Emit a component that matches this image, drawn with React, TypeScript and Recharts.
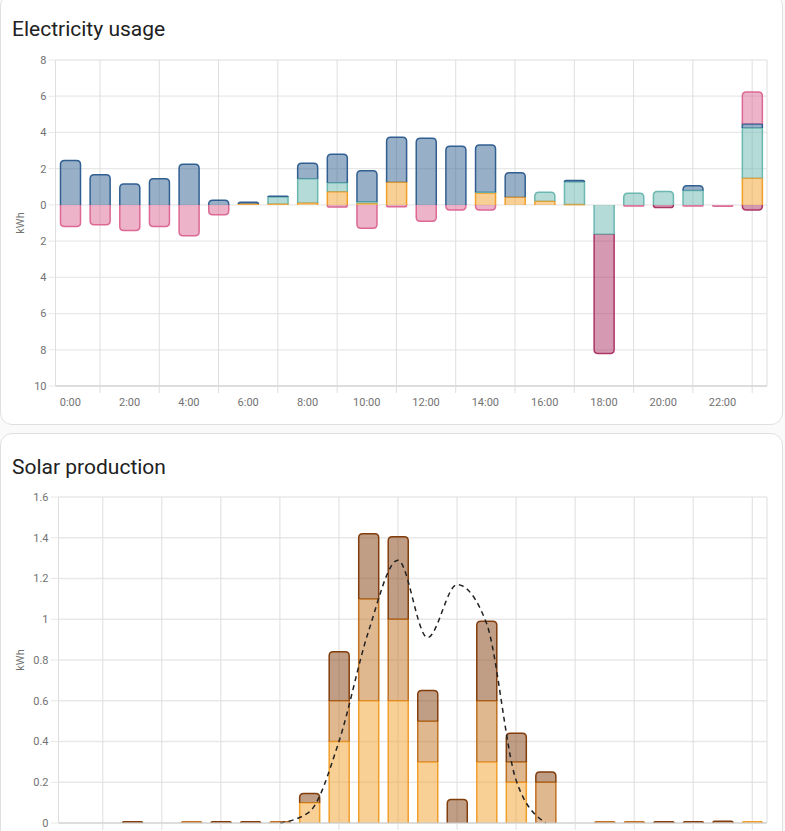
import React from "react";
import {
  BarChart,
  ComposedChart,
  Bar,
  Line,
  XAxis,
  YAxis,
  CartesianGrid,
} from "recharts";

const hours = [
  "0:00", "1:00", "2:00", "3:00", "4:00", "5:00", "6:00", "7:00",
  "8:00", "9:00", "10:00", "11:00", "12:00", "13:00", "14:00", "15:00",
  "16:00", "17:00", "18:00", "19:00", "20:00", "21:00", "22:00", "23:00",
];
const labelHours = ["0:00", "2:00", "4:00", "6:00", "8:00", "10:00", "12:00", "14:00", "16:00", "18:00", "20:00", "22:00"];
const gridHours = ["1:00", "3:00", "5:00", "7:00", "9:00", "11:00", "13:00", "15:00", "17:00", "19:00", "21:00", "23:00"];

// electricity usage, kWh per hour (negative = into battery)
const solarUsed = [0, 0, 0, 0, 0, 0, 0.05, 0.05, 0.11, 0.72, 0.08, 1.25, 0, 0, 0.65, 0.42, 0.2, 0.02, 0, 0, 0, 0, 0, 1.47];
const batteryOut = [0, 0, 0, 0, 0, 0, 0, 0.39, 1.33, 0.5, 0.1, 0, 0, 0, 0.05, 0, 0.5, 1.24, -1.62, 0.64, 0.74, 0.79, 0, 2.78];
const gridIn = [2.45, 1.66, 1.16, 1.44, 2.24, 0.25, 0.1, 0.04, 0.86, 1.58, 1.7, 2.49, 3.68, 3.24, 2.61, 1.35, 0, 0.08, 0, 0, 0, 0.26, 0, 0.22];
const batteryIn = [-1.2, -1.09, -1.42, -1.2, -1.7, -0.54, 0, 0, 0, -0.12, -1.29, -0.1, -0.9, -0.28, -0.28, 0, 0, 0, 0, -0.06, 0, -0.06, -0.08, 1.77];
const gridToBattery = [0, 0, 0, 0, 0, 0, 0, 0, 0, 0, 0, 0, 0, 0, 0, 0, 0, 0, -6.58, 0, -0.15, 0, 0, -0.28];
const usageTicks = [-10, -8, -6, -4, -2, 0, 2, 4, 6, 8];

// solar production, kWh per hour, three arrays + forecast
const solarEast = [0, 0, 0, 0, 0, 0, 0, 0, 0.1, 0.4, 0.6, 0.6, 0.3, 0, 0.3, 0.2, 0, 0, 0, 0, 0, 0, 0, 0.006];
const solarSouth = [0, 0, 0, 0, 0.006, 0, 0, 0.006, 0, 0.2, 0.5, 0.4, 0.2, 0, 0.3, 0.1, 0.2, 0, 0.006, 0.006, 0, 0, 0, 0];
const solarWest = [0, 0, 0.006, 0, 0, 0.006, 0.006, 0, 0.045, 0.24, 0.32, 0.405, 0.15, 0.115, 0.39, 0.14, 0.05, 0, 0, 0, 0.006, 0.006, 0.008, 0];
const forecast = [null, null, null, null, null, null, null, 0, 0.055, 0.4, 0.94, 1.29, 0.91, 1.17, 0.98, 0.21, 0, null, null, null, null, null, null, null];
const solarTicks = [0, 0.2, 0.4, 0.6, 0.8, 1, 1.2, 1.4, 1.6];

const usageData = hours.map((hour, i) => ({
  hour,
  solar: solarUsed[i],
  batteryOut: batteryOut[i],
  grid: gridIn[i],
  batteryIn: batteryIn[i],
  gridToBattery: gridToBattery[i],
}));

const solarData = hours.map((hour, i) => ({
  hour,
  east: solarEast[i],
  south: solarSouth[i],
  west: solarWest[i],
  forecast: forecast[i],
}));

const usageOrder = ["solar", "batteryOut", "grid", "batteryIn", "gridToBattery"];
const solarOrder = ["east", "south", "west"];

const gridH = "#e8e8e8";
const gridV = "#dedede";
const tickColor = "#727272";
const font = "Roboto, sans-serif";

// rounded outer end on the last segment of each stack, base edge not stroked
const stackShape = (key: string, order: string[], color: string) => (props: any) => {
  const { x, y, width, height, payload } = props;
  const v = payload ? payload[key] : 0;
  if (!v || height === undefined || isNaN(height)) return <g />;
  const pos = v > 0;
  const rest = order.slice(order.indexOf(key) + 1);
  const outer = !rest.some((k) => (pos ? payload[k] > 0 : payload[k] < 0));
  const top = Math.min(y, y + height);
  const h = Math.max(Math.abs(height), 0.8);
  const w = width;
  const r = outer ? Math.min(4, h, w / 2) : 0;
  const b = top + h;
  const edgePath = pos
    ? `M${x},${b} L${x},${top + r} Q${x},${top} ${x + r},${top} L${x + w - r},${top} Q${x + w},${top} ${x + w},${top + r} L${x + w},${b}`
    : `M${x},${top} L${x},${b - r} Q${x},${b} ${x + r},${b} L${x + w - r},${b} Q${x + w},${b} ${x + w},${b - r} L${x + w},${top}`;
  return (
    <g>
      <path d={edgePath + " Z"} fill={color} fillOpacity={0.5} stroke="none" />
      <path d={edgePath} fill="none" stroke={color} strokeWidth={1.5} />
    </g>
  );
};

const NoLabel = () => <g />;

const cardStyle: React.CSSProperties = {
  position: "absolute",
  left: 0,
  width: 783,
  boxSizing: "border-box",
  background: "#ffffff",
  border: "1px solid #e0e0e0",
  borderRadius: 12,
};

const titleStyle: React.CSSProperties = {
  position: "absolute",
  left: 12,
  fontFamily: font,
  fontSize: 21,
  lineHeight: "21px",
  color: "#212121",
  whiteSpace: "nowrap",
};

const kwhLabel = {
  value: "kWh",
  angle: -90,
  position: "insideLeft" as const,
  offset: 20,
  style: { textAnchor: "middle" as const, fill: tickColor, fontSize: 11 },
};

export default function App() {
  return (
    <div
      style={{
        position: "absolute",
        left: 0,
        top: 0,
        width: 785,
        height: 831,
        overflow: "hidden",
        background: "#fafafa",
      }}
    >
      <div style={{ ...cardStyle, top: -6, height: 431 }} />
      <div style={{ ...cardStyle, top: 433, height: 500 }} />
      <div style={{ ...titleStyle, top: 18.5 }}>Electricity usage</div>
      <div style={{ ...titleStyle, top: 457 }}>Solar production</div>

      <div style={{ position: "absolute", left: 0, top: 0 }}>
        <BarChart
          width={785}
          height={425}
          data={usageData}
          stackOffset="sign"
          margin={{ top: 60, right: 18, bottom: 8, left: 0 }}
          style={{ fontFamily: font }}
        >
          <CartesianGrid stroke={gridH} strokeWidth={1.3} horizontal={true} vertical={false} />
          <CartesianGrid xAxisId="grid" stroke={gridV} horizontal={false} vertical={true} />
          <XAxis
            xAxisId="grid"
            dataKey="hour"
            ticks={gridHours}
            interval={0}
            tick={<NoLabel />}
            tickSize={7}
            tickLine={{ stroke: gridV }}
            axisLine={{ stroke: "#cccccc" }}
            height={1}
          />
          <XAxis
            xAxisId="labels"
            dataKey="hour"
            ticks={labelHours}
            interval={0}
            tickSize={0}
            tickMargin={11}
            tickLine={false}
            axisLine={false}
            tick={{ fill: tickColor, fontSize: 11 }}
            height={30}
          />
          <YAxis
            width={55.5}
            domain={[-10, 8]}
            ticks={usageTicks}
            interval={0}
            tickFormatter={(v: number) => String(Math.abs(v))}
            tick={{ fill: tickColor, fontSize: 11 }}
            tickSize={7}
            tickMargin={2}
            tickLine={{ stroke: gridH }}
            axisLine={{ stroke: gridV }}
            label={kwhLabel}
          />
          <Bar xAxisId="grid" dataKey="solar" stackId="u" barSize={20} isAnimationActive={false} shape={stackShape("solar", usageOrder, "#f19f2b")} />
          <Bar xAxisId="grid" dataKey="batteryOut" stackId="u" barSize={20} isAnimationActive={false} shape={stackShape("batteryOut", usageOrder, "#6ab8b0")} />
          <Bar xAxisId="grid" dataKey="grid" stackId="u" barSize={20} isAnimationActive={false} shape={stackShape("grid", usageOrder, "#315f91")} />
          <Bar xAxisId="grid" dataKey="batteryIn" stackId="u" barSize={20} isAnimationActive={false} shape={stackShape("batteryIn", usageOrder, "#dc6893")} />
          <Bar xAxisId="grid" dataKey="gridToBattery" stackId="u" barSize={20} isAnimationActive={false} shape={stackShape("gridToBattery", usageOrder, "#ac3566")} />
        </BarChart>
      </div>

      <div style={{ position: "absolute", left: 0, top: 433 }}>
        <ComposedChart
          width={785}
          height={398}
          data={solarData}
          margin={{ top: 64, right: 18, bottom: 0, left: 0 }}
          style={{ fontFamily: font }}
        >
          <CartesianGrid stroke={gridH} strokeWidth={1.3} horizontal={true} vertical={false} />
          <CartesianGrid stroke={gridV} horizontal={false} vertical={true} />
          <XAxis
            dataKey="hour"
            ticks={gridHours}
            interval={0}
            tick={<NoLabel />}
            tickSize={7}
            tickLine={{ stroke: gridV }}
            axisLine={{ stroke: "#cccccc" }}
            height={8}
          />
          <YAxis
            width={58.5}
            domain={[0, 1.6]}
            ticks={solarTicks}
            interval={0}
            tick={{ fill: tickColor, fontSize: 11 }}
            tickSize={8}
            tickMargin={2}
            tickLine={{ stroke: gridH }}
            axisLine={{ stroke: gridV }}
            label={kwhLabel}
          />
          <Bar dataKey="east" stackId="s" barSize={20} isAnimationActive={false} shape={stackShape("east", solarOrder, "#f19f2b")} />
          <Bar dataKey="south" stackId="s" barSize={20} isAnimationActive={false} shape={stackShape("south", solarOrder, "#bf7121")} />
          <Bar dataKey="west" stackId="s" barSize={20} isAnimationActive={false} shape={stackShape("west", solarOrder, "#813d0b")} />
          <Line
            dataKey="forecast"
            type="monotone"
            stroke="#222222"
            strokeWidth={1.5}
            strokeDasharray="5 4"
            dot={false}
            connectNulls={false}
            isAnimationActive={false}
          />
        </ComposedChart>
      </div>
    </div>
  );
}
